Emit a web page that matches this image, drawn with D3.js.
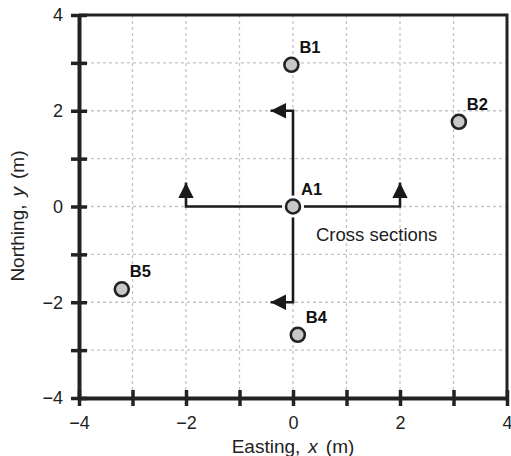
<!DOCTYPE html>
<html>
<head>
<meta charset="utf-8">
<script src="https://cdn.jsdelivr.net/npm/d3@7"></script>
<style>
  body { margin: 0; background: #fff; }
  svg { font-family: "Liberation Sans", Arial, sans-serif; }
  .grid line { stroke: #c4c4c4; stroke-width: 1.3; stroke-dasharray: 3,3; }
</style>
</head>
<body>
<div id="chart"></div>
<script>
// boreholes
var names = ["A1", "B1", "B2", "B4", "B5"]
var eastings = [0, -0.03, 3.1, 0.09, -3.2]
var northings = [0, 2.96, 1.77, -2.68, -1.73]

// cross section paths, starting at A1
var sections = [
  [[0, 0], [0, 2], [-0.42, 2]],
  [[0, 0], [0, -2], [-0.42, -2]],
  [[0, 0], [-2, 0], [-2, 0.5]],
  [[0, 0], [2, 0], [2, 0.5]]
]

var tickValues = [-4, -3, -2, -1, 0, 1, 2, 3, 4]
var labelValues = [-4, -2, 0, 2, 4]

var margin = {top: 15, right: 4, bottom: 58, left: 79}
var width = 511 - margin.left - margin.right
var height = 456 - margin.top - margin.bottom

var svg = d3.select("#chart")
    .append("svg")
    .attr("width", 511)
    .attr("height", 456)
  .append("g")
    .attr("transform", "translate(" + margin.left + "," + margin.top + ")")

var xScale = d3.scaleLinear().domain([-4, 4]).range([0, width])
var yScale = d3.scaleLinear().domain([-4, 4]).range([height, 0])

function fmt(d) {
  return labelValues.indexOf(d) >= 0 ? String(d).replace("-", "\u2212") : ""
}

// grid
var grid = svg.append("g").attr("class", "grid")
grid.selectAll(".gx")
    .data(tickValues.slice(1, -1))
    .enter().append("line")
    .attr("x1", function(d) { return xScale(d) })
    .attr("x2", function(d) { return xScale(d) })
    .attr("y1", 0)
    .attr("y2", height)
grid.selectAll(".gy")
    .data(tickValues.slice(1, -1))
    .enter().append("line")
    .attr("x1", 0)
    .attr("x2", width)
    .attr("y1", function(d) { return yScale(d) })
    .attr("y2", function(d) { return yScale(d) })

// frame top and right
svg.append("path")
    .attr("d", "M0," + yScale(4) + "H" + xScale(4) + "V" + yScale(-4))
    .attr("fill", "none")
    .attr("stroke", "#222")
    .attr("stroke-width", 3)

// x axis
var xAxis = svg.append("g")
    .attr("transform", "translate(0," + height + ")")
    .call(d3.axisBottom(xScale).tickValues(tickValues).tickSize(0).tickFormat(fmt))
xAxis.select(".domain").attr("stroke", "#222").attr("stroke-width", 4)
xAxis.selectAll(".tick line").attr("y1", -8).attr("y2", 8)
    .attr("stroke", "#222").attr("stroke-width", 3.5)
xAxis.selectAll("text").attr("y", 18).attr("dy", "0.71em")
    .attr("font-size", 18).attr("fill", "#222")

// y axis
var yAxis = svg.append("g")
    .call(d3.axisLeft(yScale).tickValues(tickValues).tickSize(0).tickFormat(fmt))
yAxis.select(".domain").attr("stroke", "#222").attr("stroke-width", 4)
yAxis.selectAll(".tick line").attr("x1", -8).attr("x2", 8)
    .attr("stroke", "#222").attr("stroke-width", 3.5)
yAxis.selectAll("text").attr("x", -16)
    .attr("font-size", 18).attr("fill", "#222")

// arrowhead
svg.append("defs").append("marker")
    .attr("id", "arrow")
    .attr("viewBox", "0 0 10 10")
    .attr("refX", 10)
    .attr("refY", 5)
    .attr("markerWidth", 6)
    .attr("markerHeight", 6)
    .attr("markerUnits", "strokeWidth")
    .attr("orient", "auto")
  .append("path")
    .attr("d", "M0,0L10,5L0,10z")
    .attr("fill", "#1a1a1a")

var line = d3.line()
    .x(function(d) { return xScale(d[0]) })
    .y(function(d) { return yScale(d[1]) })

svg.append("g").selectAll("path")
    .data(sections)
    .enter().append("path")
    .attr("d", function(d) { return line(d) })
    .attr("fill", "none")
    .attr("stroke", "#1a1a1a")
    .attr("stroke-width", 2.6)
    .attr("marker-end", "url(#arrow)")

// white gap round A1
svg.append("circle")
    .attr("cx", xScale(0))
    .attr("cy", yScale(0))
    .attr("r", 11)
    .attr("fill", "#fff")

svg.append("text")
    .attr("x", xScale(0.43))
    .attr("y", yScale(-0.73))
    .attr("font-size", 18.5)
    .attr("fill", "#222")
    .text("Cross sections")

// boreholes
var holes = svg.append("g").selectAll("g")
    .data(names)
    .enter().append("g")

holes.append("circle")
    .attr("cx", function(d, i) { return xScale(eastings[i]) })
    .attr("cy", function(d, i) { return yScale(northings[i]) })
    .attr("r", 7)
    .attr("fill", "#c8c8c8")
    .attr("stroke", "#222")
    .attr("stroke-width", 2.6)

holes.append("text")
    .attr("x", function(d, i) { return xScale(eastings[i]) + 8 })
    .attr("y", function(d, i) { return yScale(northings[i]) - 12 })
    .attr("font-size", 16.5)
    .attr("font-weight", "bold")
    .attr("fill", "#111")
    .text(function(d) { return d })

// axis titles
var xt = svg.append("text")
    .attr("x", xScale(0))
    .attr("y", height + 55)
    .attr("text-anchor", "middle")
    .attr("font-size", 19)
    .attr("fill", "#222")
xt.append("tspan").text("Easting,")
xt.append("tspan").attr("dx", 8).attr("font-style", "italic").text("x")
xt.append("tspan").attr("dx", 8).text("(m)")

var yt = svg.append("text")
    .attr("transform", "translate(" + (-55) + "," + yScale(-0.2) + ") rotate(-90)")
    .attr("text-anchor", "middle")
    .attr("font-size", 19)
    .attr("fill", "#222")
yt.append("tspan").text("Northing,")
yt.append("tspan").attr("dx", 8).attr("font-style", "italic").text("y")
yt.append("tspan").attr("dx", 8).text("(m)")
</script>
</body>
</html>
